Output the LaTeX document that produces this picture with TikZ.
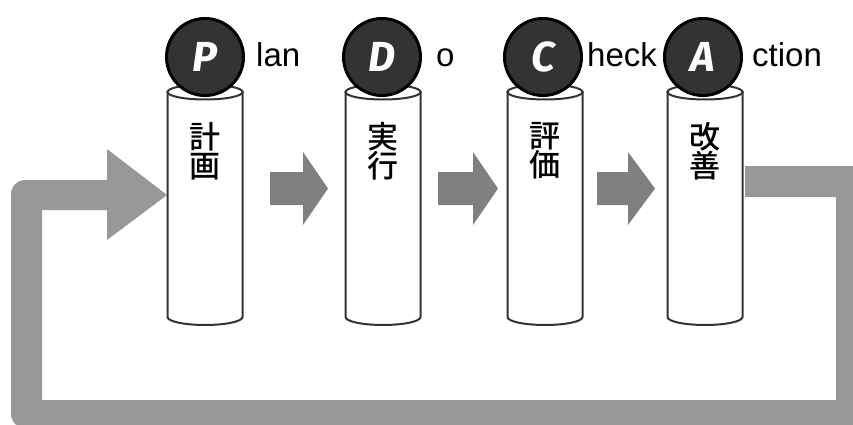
\documentclass[tikz,border=0pt]{standalone}
\usepackage{fontspec}
\setmainfont{Liberation Sans}
\newfontfamily\jpfont{Noto Sans CJK JP Medium}
\newfontfamily\letterfont{Fira Sans}
\definecolor{loopgray}{HTML}{989898}
\definecolor{arrgray}{HTML}{808080}
\definecolor{cyledge}{HTML}{333333}
\definecolor{ballfill}{HTML}{333333}
\tikzset{
  ball/.style={circle, minimum size=77pt, inner sep=0pt, fill=ballfill, draw=black, line width=3pt,
    text=white, font=\letterfont\bfseries\itshape\fontsize{42}{42}\selectfont},
  word/.style={inner sep=0pt, anchor=base west, font=\fontsize{33}{33}\selectfont},
  kanji/.style={inner sep=0pt, align=center, font=\jpfont\fontsize{31}{29}\selectfont},
  cyl/.style={fill=white, draw=cyledge, line width=2pt},
  blockarrow/.style={fill=arrgray, draw=none},
  loopband/.style={fill=loopgray, draw=none}
}
\begin{document}
\begin{tikzpicture}[x=1pt,y=-1pt]
\useasboundingbox (0,0) rectangle (853,425);
% feedback loop
\fill[loopband] (745,166) -- (867,166) -- (867,428)
  [rounded corners=14pt] -- (11,428) -- (11,180) [sharp corners] -- (107,180) -- (107,149)
  -- (167,195) -- (107,240) -- (107,210) -- (42,210) -- (42,400) -- (836,400) -- (836,197) -- (745,197) -- cycle;
% cylinders
\foreach \cx/\nm in {205/cP,383/cD,545/cC,705/cA}{
  \draw[cyl] (\cx-37.5,92) -- (\cx-37.5,317) arc[start angle=180,end angle=0,x radius=37.5,y radius=8] -- (\cx+37.5,92) -- cycle;
  \draw[cyl] (\cx,92) ellipse[x radius=37.5,y radius=7.5];
  \coordinate (\nm) at (\cx,200);
}
% block arrows between cylinders
\foreach \a/\b/\c in {270/303/328,438/473/498,597/628/655}{
  \fill[blockarrow] (\a,172) -- (\b,172) -- (\b,152) -- (\c,188.5) -- (\b,225) -- (\b,205) -- (\a,205) -- cycle;
}
% balls
\node[ball] (bP) at (205,57) {P};
\node[ball] (bD) at (382,57) {D};
\node[ball] (bC) at (543,57) {C};
\node[ball] (bA) at (703,57) {A};
% words
\node[word] (wP) at (256,67) {lan};
\node[word] (wD) at (436,67) {o};
\node[word] (wC) at (587,67) {heck};
\node[word] (wA) at (752,67) {ction};
% kanji
\node[kanji] (kP) at (205,151) {計\\画};
\node[kanji] (kD) at (383,151) {実\\行};
\node[kanji] (kC) at (545,151) {評\\価};
\node[kanji] (kA) at (705,151) {改\\善};
\end{tikzpicture}
\end{document}
